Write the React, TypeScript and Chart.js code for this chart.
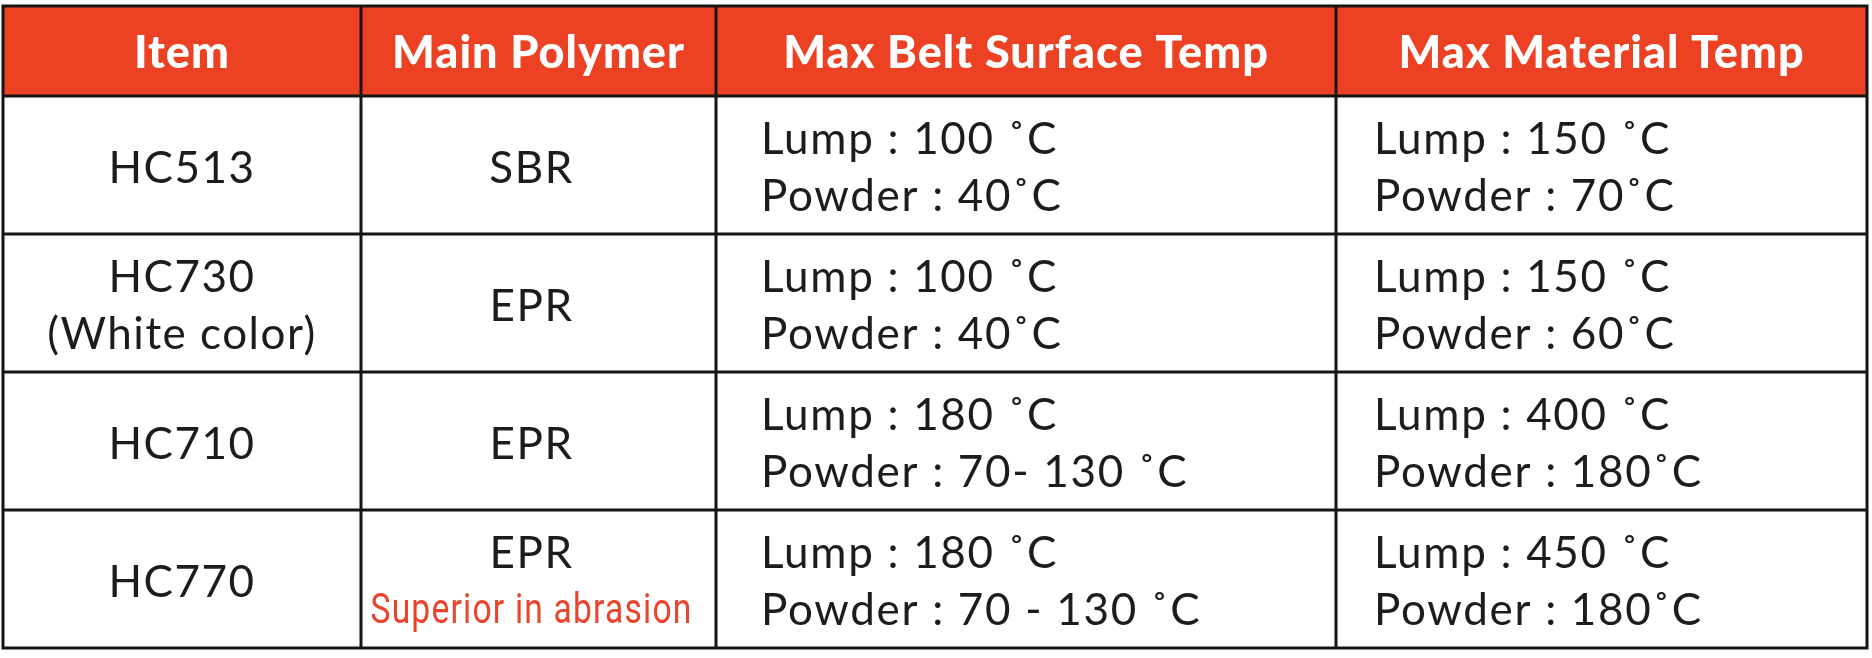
import { useEffect, useRef } from "react";
import { Chart, registerables } from "chart.js";

Chart.register(...registerables);

// table content
const headers = ["Item", "Main Polymer", "Max Belt Surface Temp", "Max Material Temp"];
const items = ["HC513", "HC730", "HC710", "HC770"];
const itemNotes = ["", "(White color)", "", ""];
const polymers = ["SBR", "EPR", "EPR", "EPR"];
const polymerNotes = ["", "", "", "Superior in abrasion"];
const beltLump = ["100 ˚C", "100 ˚C", "180 ˚C", "180 ˚C"];
const beltPowder = ["40˚C", "40˚C", "70- 130 ˚C", "70 - 130 ˚C"];
const materialLump = ["150 ˚C", "150 ˚C", "400 ˚C", "450 ˚C"];
const materialPowder = ["70˚C", "60˚C", "180˚C", "180˚C"];

// layout (px-ish units on the x scale)
const COL_WIDTHS = [358, 355, 620, 531];
const LEFT_PAD = [0, 0, 45, 38];
const CENTER_SHIFT = [0, -7, 0, 0];
const HEADER_TOP = 6;
const HEADER_BG = "#EC4123";
const LINE_COLOR = "#151515";
const TEXT_COLOR = "#1c1c1c";
const NOTE_COLOR = "#E8452C";
const BODY_FONT = "400 44px Lato";
const HEAD_FONT = "900 45px Lato";

const tablePlugin = {
  id: "tableCells",
  afterDatasetsDraw(chart: any) {
    const ctx = chart.ctx;
    const area = chart.chartArea;
    const metas = COL_WIDTHS.map((_, i) => chart.getDatasetMeta(i));
    const colLeft = (c: number) => Math.min(metas[c].data[0].base, metas[c].data[0].x);
    const colRight = (c: number) => Math.max(metas[c].data[0].base, metas[c].data[0].x);

    ctx.save();
    // header band
    ctx.fillStyle = HEADER_BG;
    ctx.fillRect(area.left, HEADER_TOP, area.right - area.left, area.top - HEADER_TOP);
    ctx.fillStyle = "#ffffff";
    ctx.font = HEAD_FONT;
    ctx.letterSpacing = "1px";
    ctx.textAlign = "center";
    ctx.textBaseline = "alphabetic";
    headers.forEach((h, c) => {
      const cx = (colLeft(c) + colRight(c)) / 2;
      ctx.fillText(h, cx, (HEADER_TOP + area.top) / 2 + 17);
    });

    // body text
    items.forEach((_, r) => {
      const el = metas[0].data[r];
      const cy = el.y;
      const twoLines = (a: string, b: string, c: number, align: string, bColor?: string, bFont?: string) => {
        ctx.textAlign = align;
        const x =
          align === "center"
            ? (colLeft(c) + colRight(c)) / 2 + CENTER_SHIFT[c]
            : colLeft(c) + LEFT_PAD[c];
        if (b) {
          ctx.fillStyle = TEXT_COLOR;
          ctx.font = BODY_FONT;
          ctx.fillText(a, x, cy - 11);
          ctx.fillStyle = bColor || TEXT_COLOR;
          if (bFont) {
            ctx.save();
            ctx.font = bFont;
            ctx.translate(x, cy + 44);
            ctx.scale(0.8, 1);
            ctx.fillText(b, 0, 0);
            ctx.restore();
          } else {
            ctx.fillText(b, x, cy + 46);
          }
        } else {
          ctx.fillStyle = TEXT_COLOR;
          ctx.font = BODY_FONT;
          ctx.fillText(a, x, cy + 18);
        }
      };
      ctx.letterSpacing = "1.5px";
      twoLines(items[r], itemNotes[r], 0, "center");
      twoLines(polymers[r], polymerNotes[r], 1, "center", NOTE_COLOR, "400 42px Roboto");
      ctx.letterSpacing = "1.7px";
      twoLines("Lump : " + beltLump[r], "Powder : " + beltPowder[r], 2, "left");
      twoLines("Lump : " + materialLump[r], "Powder : " + materialPowder[r], 3, "left");
      ctx.letterSpacing = "0px";
    });

    // grid lines
    ctx.strokeStyle = LINE_COLOR;
    ctx.lineWidth = 3;
    ctx.beginPath();
    const edgesX = [colLeft(0), ...COL_WIDTHS.map((_, c) => colRight(c))];
    edgesX.forEach((x) => {
      ctx.moveTo(x, HEADER_TOP);
      ctx.lineTo(x, area.bottom);
    });
    const edgesY = [HEADER_TOP, ...metas[0].data.map((el: any) => el.y - el.height / 2), area.bottom];
    edgesY.forEach((y) => {
      ctx.moveTo(area.left - 1.5, y);
      ctx.lineTo(area.right + 1.5, y);
    });
    ctx.stroke();
    ctx.restore();
  },
};

const App = () => {
  const canvasRef = useRef<HTMLCanvasElement>(null);

  useEffect(() => {
    document.body.style.margin = "0";
    const chart = new Chart(canvasRef.current!, {
      type: "bar",
      data: {
        labels: items,
        datasets: COL_WIDTHS.map((w, c) => ({
          label: headers[c],
          data: items.map(() => w),
          backgroundColor: "#ffffff",
          borderWidth: 0,
          barPercentage: 1,
          categoryPercentage: 1,
        })),
      },
      options: {
        indexAxis: "y",
        animation: false,
        responsive: true,
        maintainAspectRatio: false,
        events: [],
        layout: { padding: { left: 3, right: 5, top: 96, bottom: 10 } },
        scales: {
          x: {
            stacked: true,
            display: false,
            min: 0,
            max: COL_WIDTHS.reduce((a, b) => a + b, 0),
          },
          y: { stacked: true, display: false, offset: true },
        },
        plugins: {
          legend: { display: false },
          tooltip: { enabled: false },
        },
      },
      plugins: [tablePlugin],
    });
    return () => chart.destroy();
  }, []);

  return (
    <div style={{ width: 1872, height: 658, position: "relative", background: "#ffffff" }}>
      <canvas ref={canvasRef}></canvas>
    </div>
  );
};

export default App;
